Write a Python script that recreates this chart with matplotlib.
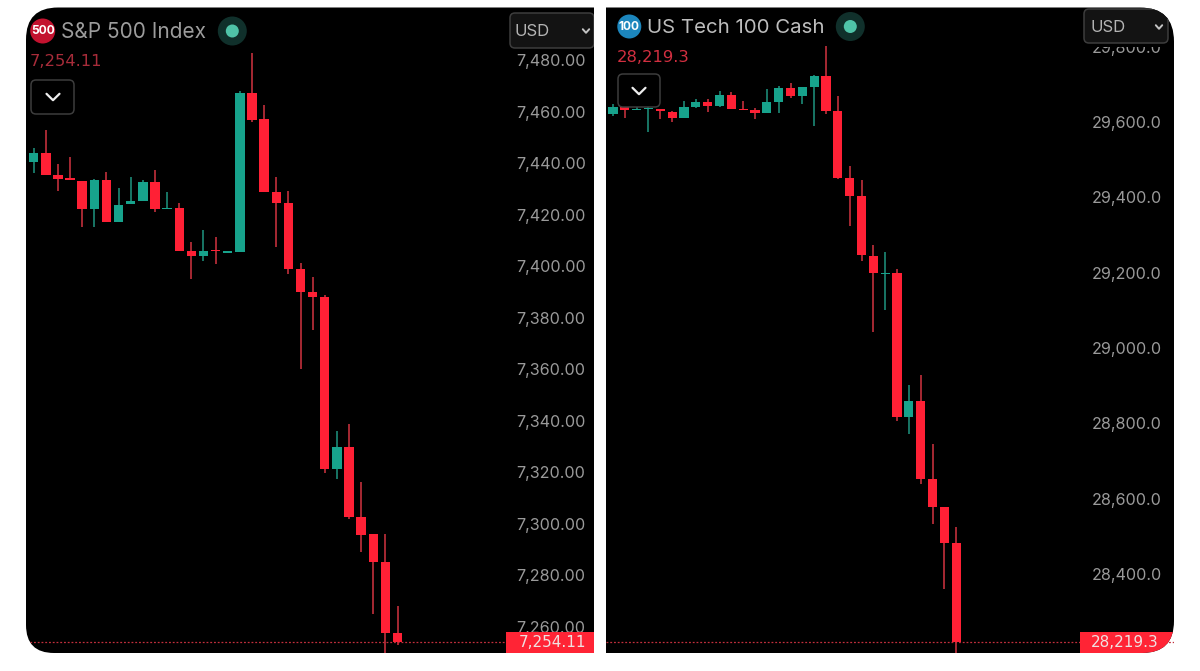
import matplotlib
matplotlib.use("Agg")
import matplotlib.pyplot as plt
from matplotlib.path import Path
from matplotlib.patches import PathPatch, Circle, FancyBboxPatch

plt.rcParams["font.family"] = ["Inter", "DejaVu Sans"]

W, H = 1200, 671

# S&P 500 candles
spx_open = [7440.4, 7444.0, 7435.5, 7434.2, 7433.3, 7422.1, 7433.5, 7417.1, 7424.1, 7425.3, 7432.9,
            7422.2, 7422.6, 7405.9, 7404.1, 7406.3, 7405.3, 7405.4, 7467.5, 7457.1, 7429.0, 7424.6,
            7398.8, 7390.1, 7388.0, 7321.1, 7329.9, 7302.4, 7296.0, 7284.9, 7257.6]
spx_close = [7443.9, 7435.5, 7434.0, 7433.4, 7422.1, 7433.4, 7417.1, 7423.9, 7425.3, 7432.9, 7422.4,
             7422.8, 7406.0, 7404.1, 7405.9, 7405.8, 7405.8, 7467.5, 7457.0, 7429.0, 7424.7, 7398.8,
             7390.1, 7388.0, 7321.1, 7329.6, 7302.4, 7295.4, 7284.9, 7257.6, 7254.11]
spx_high = [7445.8, 7453.0, 7439.6, 7442.6, 7433.3, 7433.8, 7436.8, 7430.5, 7434.8, 7433.5, 7437.4,
            7428.7, 7424.7, 7409.4, 7414.1, 7411.5, 7405.8, 7468.2, 7483.0, 7462.7, 7434.8, 7429.4,
            7401.1, 7396.0, 7388.7, 7336.0, 7338.7, 7316.1, 7296.0, 7296.0, 7268.0]
spx_low = [7436.1, 7435.5, 7429.4, 7433.4, 7415.4, 7415.1, 7417.1, 7417.1, 7424.1, 7425.3, 7421.3,
           7422.2, 7406.0, 7395.0, 7402.2, 7400.9, 7405.3, 7405.4, 7456.2, 7428.7, 7407.6, 7397.0,
           7359.9, 7375.2, 7319.8, 7317.3, 7301.9, 7288.8, 7264.7, 7249.8, 7252.8]
spx_ticks = [7480, 7460, 7440, 7420, 7400, 7380, 7360, 7340, 7320, 7300, 7280, 7260]
spx_last = 7254.11

# US Tech 100 candles
ndx_open = [29621.3, 29639.0, 29632.8, 29633.7, 29635.4, 29627.5, 29609.8, 29639.0, 29654.0, 29642.5,
            29671.7, 29635.4, 29632.8, 29624.8, 29653.1, 29690.3, 29669.0, 29693.0, 29721.3, 29630.1,
            29451.4, 29402.7, 29245.2, 29197.0, 29200.0, 28817.7, 28860.2, 28652.4, 28578.0, 28481.7]
ndx_close = [29640.7, 29631.9, 29635.4, 29638.1, 29628.3, 29610.6, 29639.8, 29653.1, 29642.5, 29672.6,
             29635.4, 29631.0, 29624.8, 29653.1, 29689.4, 29669.0, 29693.0, 29721.3, 29628.3, 29450.5,
             29403.6, 29246.1, 29198.4, 29200.0, 28817.7, 28860.2, 28652.4, 28578.0, 28481.7, 28219.3]
ndx_high = [29646.9, 29639.0, 29639.0, 29640.0, 29635.4, 29630.1, 29655.8, 29660.2, 29660.2, 29683.2,
            29678.8, 29656.7, 29637.2, 29686.8, 29694.7, 29702.7, 29693.0, 29723.9, 29801.8, 29669.0,
            29484.1, 29446.0, 29272.6, 29255.8, 29209.0, 28901.9, 28928.4, 28745.3, 28578.0, 28525.7]
ndx_low = [29616.8, 29610.6, 29631.9, 29573.5, 29608.0, 29600.9, 29609.8, 29637.2, 29625.7, 29640.7,
           29635.4, 29631.0, 29608.9, 29624.8, 29624.8, 29663.7, 29647.8, 29589.4, 29620.4, 29447.8,
           29324.8, 29230.2, 29043.4, 29101.0, 28807.1, 28771.8, 28638.3, 28532.9, 28360.0, 28190.0]
ndx_ticks = [29800, 29600, 29400, 29200, 29000, 28800, 28600, 28400]
ndx_last = 28219.3

UP, UP_WICK = "#17a38c", "#1c8a76"
DOWN, DOWN_WICK = "#ff2035", "#c22f3c"


def panel_path(x0, y0, x1, y1, tl=0, tr=0, br=0, bl=0):
    return Path(
        [(x0 + tl, y0), (x1 - tr, y0), (x1, y0), (x1, y0 + tr), (x1, y1 - br), (x1, y1), (x1 - br, y1),
         (x0 + bl, y1), (x0, y1), (x0, y1 - bl), (x0, y0 + tl), (x0, y0), (x0 + tl, y0), (x0 + tl, y0)],
        [Path.MOVETO, Path.LINETO, Path.CURVE3, Path.CURVE3, Path.LINETO, Path.CURVE3, Path.CURVE3,
         Path.LINETO, Path.CURVE3, Path.CURVE3, Path.LINETO, Path.CURVE3, Path.CURVE3, Path.CLOSEPOLY],
    )


def add_pixel_axes(fig, x0, y0, x1, y1, zorder):
    ax = fig.add_axes([x0 / W, 1 - y1 / H, (x1 - x0) / W, (y1 - y0) / H], zorder=zorder)
    ax.patch.set_visible(False)
    for s in ax.spines.values():
        s.set_visible(False)
    return ax


def candles(ax, opens, closes, highs, lows):
    for i, (o, c, h, l) in enumerate(zip(opens, closes, highs, lows)):
        up = c >= o
        ax.vlines(i, l, h, color=UP_WICK if up else DOWN_WICK, lw=1.2, zorder=2)
        ax.bar(i, abs(c - o), bottom=min(o, c), width=0.78, color=UP if up else DOWN, lw=0, zorder=3)


def price_axis(ax, ticks, fmt, pad):
    ax.set_xticks([])
    ax.yaxis.tick_right()
    ax.set_yticks(ticks)
    ax.set_yticklabels([fmt.format(t) for t in ticks])
    ax.tick_params(axis="y", length=0, pad=pad, labelsize=11.6, labelcolor="#9a9a9a")


fig = plt.figure(figsize=(W / 100, H / 100), dpi=100, facecolor="white")

bg = add_pixel_axes(fig, 0, 0, W, H, 0)
bg.set_xlim(0, W)
bg.set_ylim(H, 0)
bg.axis("off")
left_panel = panel_path(26, 7.5, 594, 653, tl=32, bl=28)
right_panel = panel_path(606, 7.5, 1174, 653, tr=34, br=32)
bg.add_patch(PathPatch(left_panel, fc="black", lw=0))
bg.add_patch(PathPatch(right_panel, fc="black", lw=0))

ax1 = add_pixel_axes(fig, 26, 7.5, 594, 653, 1)
ax1.set_xlim(-0.635, 46.2)
ax1.set_ylim(7249.7, 7500.6)
candles(ax1, spx_open, spx_close, spx_high, spx_low)
price_axis(ax1, spx_ticks, "{:,.2f}", -56.2)
last1 = ax1.axhline(spx_last, color="#c22f3c", lw=0.9, ls=(0, (1.5, 1.5)), zorder=1)
last1.set_clip_path(left_panel, bg.transData)

ax2 = add_pixel_axes(fig, 606, 7.5, 1174, 653, 1)
ax2.set_xlim(-0.59, 47.4)
ax2.set_ylim(28190.5, 29904)
candles(ax2, ndx_open, ndx_close, ndx_high, ndx_low)
price_axis(ax2, ndx_ticks, "{:,.1f}", -59.3)
ax2.axhline(ndx_last, color="#c22f3c", lw=0.9, ls=(0, (1.5, 1.5)), zorder=1)

# interface pieces on top, in pixel coordinates
ui = add_pixel_axes(fig, 0, 0, W, H, 2)
ui.set_xlim(0, W)
ui.set_ylim(H, 0)
ui.axis("off")


def header(cx, cy, rad, icon_color, icon_text, name, name_x, name_color, name_size, dot_x, last, last_x, last_y, last_color):
    ui.add_patch(Circle((cx, cy), rad, fc=icon_color, lw=0))
    ui.text(cx, cy + 0.3, icon_text, color="white", fontsize=8.6, fontweight="bold", ha="center", va="center")
    ui.text(name_x, cy + 1.5, name, color=name_color, fontsize=name_size, ha="left", va="center")
    ui.add_patch(Circle((dot_x, cy), 14.5, fc="#10302b", lw=0))
    ui.add_patch(Circle((dot_x, cy), 6.5, fc="#4fc3a8", lw=0))
    # DejaVu digits are all one width, like the app's price font
    ui.text(last_x, last_y, last, color=last_color, fontsize=11.8, family="DejaVu Sans", ha="left", va="center")


def chevron(cx, cy, w, h, color, lw):
    ui.plot([cx - w, cx, cx + w], [cy - h, cy + h, cy - h], color=color, lw=lw, solid_capstyle="round", zorder=6)


def button(x0, y0, x1, y1, fc, clip=None):
    b = FancyBboxPatch((x0 + 5, y0 + 5), x1 - x0 - 10, y1 - y0 - 10, boxstyle="round,pad=5,rounding_size=5",
                       fc=fc, ec="#3d3d3d", lw=1.1, zorder=4)
    ui.add_patch(b)
    if clip is not None:
        b.set_clip_path(clip, ui.transData)


header(42.7, 31, 12.5, "#c3122f", "500", "S&P 500 Index", 61, "#9c9c9c", 15, 232.3,
       "7,254.11", 30, 62, "#a82c3a")
header(629.3, 26.5, 12, "#1c86bd", "100", "US Tech 100 Cash", 647, "#bdbdbd", 14.7, 850.3,
       "28,219.3", 617, 57, "#d22f40")

button(31, 80, 74, 114, "#000000")
chevron(53, 97, 6.5, 3.2, "#ededed", 1.6)
button(618, 74, 660, 107, "none")
chevron(639, 91, 6.5, 3.2, "#ededed", 1.6)

# the top tick label on the right panel is half hidden below its button
ui.fill_between([1085, 1167], 42, 47, color="black", lw=0, zorder=3)

button(510, 13, 594, 48, "#131313", left_panel)
ui.text(515, 31.5, "USD", color="#b4b4b4", fontsize=12, ha="left", va="center", zorder=5)
chevron(586, 31, 3.2, 1.8, "#c4c4c4", 1.4)
button(1084, 9, 1168, 43, "#131313", right_panel)
ui.text(1090, 27.5, "USD", color="#b4b4b4", fontsize=12, ha="left", va="center", zorder=5)
chevron(1159, 27, 3.2, 1.8, "#c4c4c4", 1.4)

# last price tags
ui.fill_between([505.7, 594], 631.7, 653, color="#ff2435", lw=0, zorder=4)
ui.text(586, 642.5, "7,254.11", color="#f0e0e0", fontsize=11, family="DejaVu Sans", ha="right", va="center", zorder=5)
tag2 = ui.fill_between([1080, 1174], 631.7, 653, color="#ff2435", lw=0, zorder=4)
tag2.set_clip_path(right_panel, ui.transData)
ui.text(1159, 642.5, "28,219.3", color="#f0e0e0", fontsize=11, family="DejaVu Sans", ha="right", va="center", zorder=5)

fig.savefig("out.png", dpi=100, facecolor="white")
